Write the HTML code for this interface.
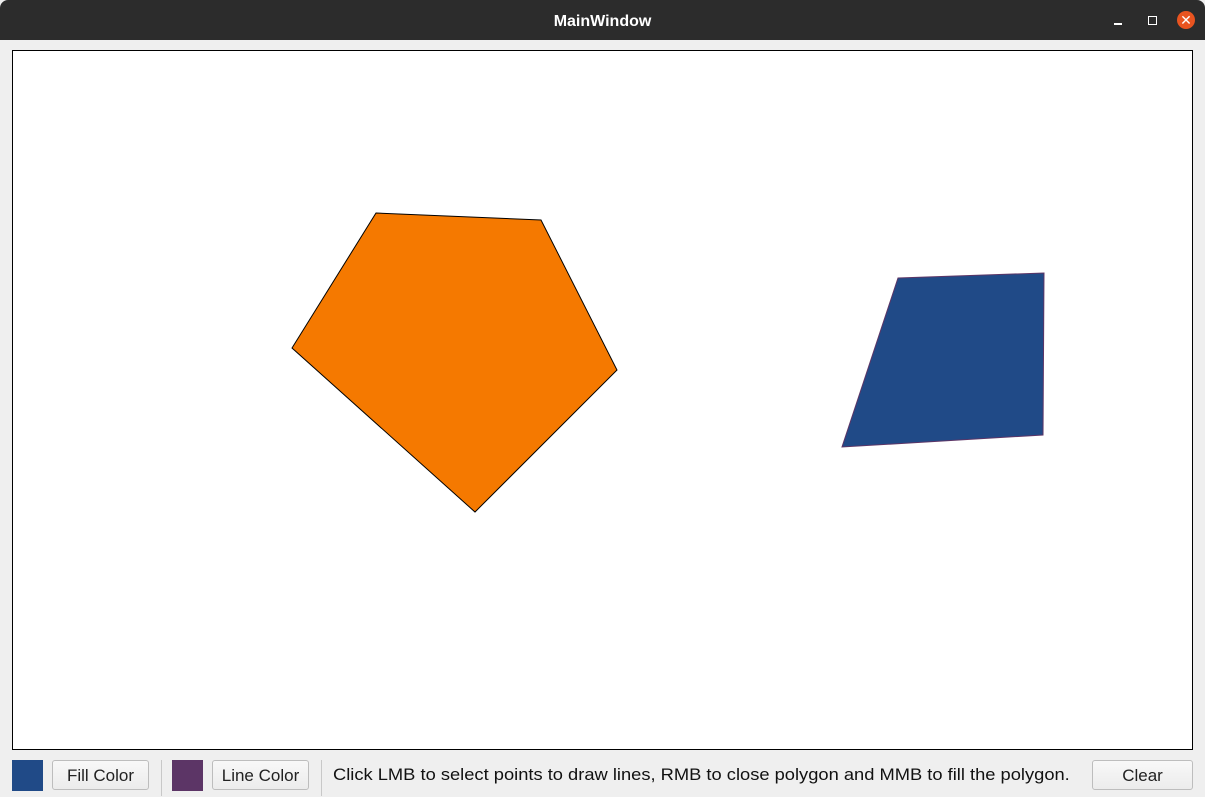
<!DOCTYPE html>
<html><head><meta charset="utf-8"><style>
body{margin:0;width:1205px;height:797px;background:#efefef;font-family:"Liberation Sans","DejaVu Sans",sans-serif;position:relative;overflow:hidden}
.abs{position:absolute}
.btn{position:absolute;top:760px;height:30px;border:1px solid #bdbdbd;border-radius:3px;background:linear-gradient(#f8f8f8,#ececec);font-size:17px;line-height:30px;text-align:center;color:#222;box-sizing:border-box}
</style></head><body>
<div class="abs" style="left:0;top:0;width:1205px;height:40px;background:#2c2c2c;border-radius:8px 8px 0 0">
<div class="abs" style="left:0;width:1205px;top:13px;text-align:center;color:#fff;font-weight:bold;font-size:16px">MainWindow</div>
<div class="abs" style="left:1114px;top:23px;width:8px;height:2px;background:#fff"></div>
<div class="abs" style="left:1148px;top:16px;width:7px;height:7px;border:1px solid #fff"></div>
<div class="abs" style="left:1177px;top:11px;width:18px;height:18px;border-radius:50%;background:#e95420;color:#fff;font-size:14px;line-height:18px;text-align:center">✕</div>
</div>
<svg class="abs" style="left:12px;top:50px" width="1182" height="701">
<rect x="0.5" y="0.5" width="1180" height="699" fill="#fff" stroke="#000"/>
<g transform="translate(-12,-50)">
<polygon points="376,213 541,220 617,370 475,512 292,348" fill="#f57900" stroke="#000" stroke-width="1"/>
<polygon points="898,278 1044,273 1043,435 842,447" fill="#204a87" stroke="#5c3566" stroke-width="1"/>
</g></svg>
<div class="abs" style="left:12px;top:760px;width:31px;height:31px;background:#204a87"></div>
<div class="btn" style="left:52px;width:97px">Fill Color</div>
<div class="abs" style="left:161px;top:760px;width:1px;height:36px;background:#c8c8c8"></div>
<div class="abs" style="left:172px;top:760px;width:31px;height:31px;background:#5c3566"></div>
<div class="btn" style="left:212px;width:97px">Line Color</div>
<div class="abs" style="left:321px;top:760px;width:1px;height:36px;background:#c8c8c8"></div>
<div class="abs" style="left:333px;top:765px;font-size:17px;color:#111;white-space:nowrap;transform-origin:0 0;transform:scaleX(1.077)">Click LMB to select points to draw lines, RMB to close polygon and MMB to fill the polygon.</div>
<div class="btn" style="left:1092px;width:101px">Clear</div>
</body></html>
